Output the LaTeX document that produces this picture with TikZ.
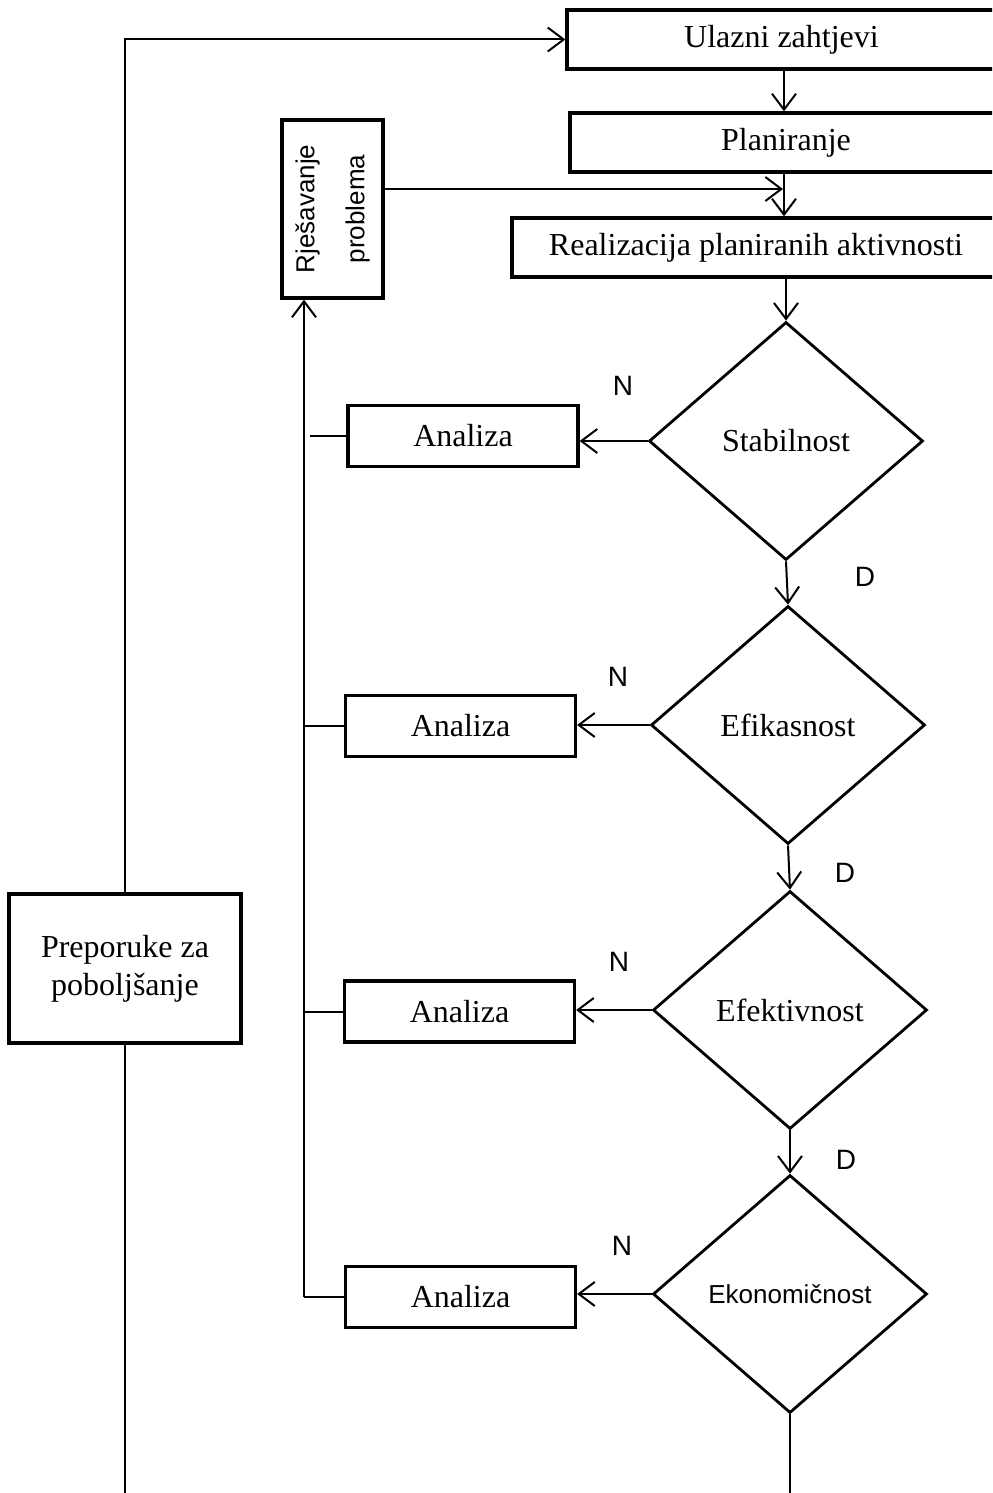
\documentclass[tikz,border=0pt]{standalone}
\usepackage{fontspec}
\setmainfont{Liberation Serif}
\setsansfont{Liberation Sans}
\usetikzlibrary{arrows.meta,shapes.geometric,calc}
\begin{document}
\begin{tikzpicture}[x=0.5pt,y=-0.5pt,
  box/.style={draw,line width=1.6pt,inner sep=0pt,font=\fontsize{16}{19}\selectfont,align=center},
  dec/.style={draw,shape=diamond,line width=1.4pt,inner sep=0pt,minimum width=137pt,minimum height=119pt,font=\fontsize{16}{19}\selectfont},
  conn/.style={line width=1pt},
  arr/.style={line width=1pt,-{Straight Barb[length=8pt,width=12pt,line width=1pt]}},
  lbl/.style={font=\sffamily\fontsize{14}{16}\selectfont,inner sep=0pt}]
\useasboundingbox (0,0) rectangle (992,1493);
\clip (0,0) rectangle (992,1493);
% main boxes
\node[box,minimum width=214.5pt,minimum height=29.5pt] (ul) at (781.5,39.5) {Ulazni zahtjevi};
\node[box,minimum width=216pt,minimum height=29.5pt] (pl) at (786,142.5) {Planiranje};
\node[box,minimum width=244pt,minimum height=29.5pt] (re) at (756,247.5) {Realizacija planiranih aktivnosti};
\node[box,rotate=90,minimum width=89pt,minimum height=50.5pt,font=\sffamily\fontsize{13}{25}\selectfont] (rp) at (332.5,209) {Rješavanje\\problema};
\node[box,minimum width=116pt,minimum height=74.5pt] (pp) at (125,968.5) {Preporuke za\\poboljšanje};
% diamonds
\node[dec] (d1) at (786,441) {Stabilnost};
\node[dec] (d2) at (788,725) {Efikasnost};
\node[dec] (d3) at (790,1010) {Efektivnost};
\node[dec,font=\sffamily\fontsize{13}{15}\selectfont] (d4) at (790,1294) {Ekonomičnost};
% analiza boxes
\node[box,minimum width=115pt,minimum height=30.5pt] (a1) at (463,436) {Analiza};
\node[box,minimum width=115pt,minimum height=30.5pt] (a2) at (460.5,726) {Analiza};
\node[box,minimum width=115pt,minimum height=30.5pt] (a3) at (459.5,1011.5) {Analiza};
\node[box,minimum width=115pt,minimum height=30.5pt] (a4) at (460.5,1297) {Analiza};
% labels
\node[lbl] (n1) at (623,386) {N};
\node[lbl] (n2) at (618,677) {N};
\node[lbl] (n3) at (619,962) {N};
\node[lbl] (n4) at (622,1246) {N};
\node[lbl] (y1) at (865,577) {D};
\node[lbl] (y2) at (845,873) {D};
\node[lbl] (y3) at (846,1160) {D};
% coordinates
\coordinate (sp) at (784,0);
\coordinate (vb) at (304,1297);
\coordinate (jn) at (783,189);
\coordinate (bot) at (0,1510);
% connectors main spine
\draw[arr] (ul.south -| sp) -- (pl.north -| sp);
\draw[arr] (pl.south -| sp) -- (re.north -| sp);
\draw[arr] (re.south -| d1.north) -- (d1.north);
\draw[arr] (d1.south) -- (d2.north);
\draw[arr] (d2.south) -- (d3.north);
\draw[arr] (d3.south) -- (d4.north);
\draw[conn] (d4.south) -- (d4.south |- bot);
% rjesavanje to spine
\draw[arr] (rp.south |- jn) -- (jn);
% N branches
\draw[arr] (d1.west) -- (d1.west -| a1.east);
\draw[arr] (d2.west) -- (d2.west -| a2.east);
\draw[arr] (d3.west) -- (d3.west -| a3.east);
\draw[arr] (d4.west) -- (d4.west -| a4.east);
\draw[conn] (a1.west) -- ($(a1.west -| vb)+(6,0)$);
\draw[conn] (a2.west) -- (a2.west -| vb);
\draw[conn] (a3.west) -- (a3.west -| vb);
\draw[conn] (a4.west) -- (vb);
\draw[arr] (vb) -- (vb |- rp.west);
% feedback loop
\draw[arr] (pp.north) |- (ul.west);
\draw[conn] (pp.south) -- (pp.south |- bot);
\end{tikzpicture}
\end{document}
